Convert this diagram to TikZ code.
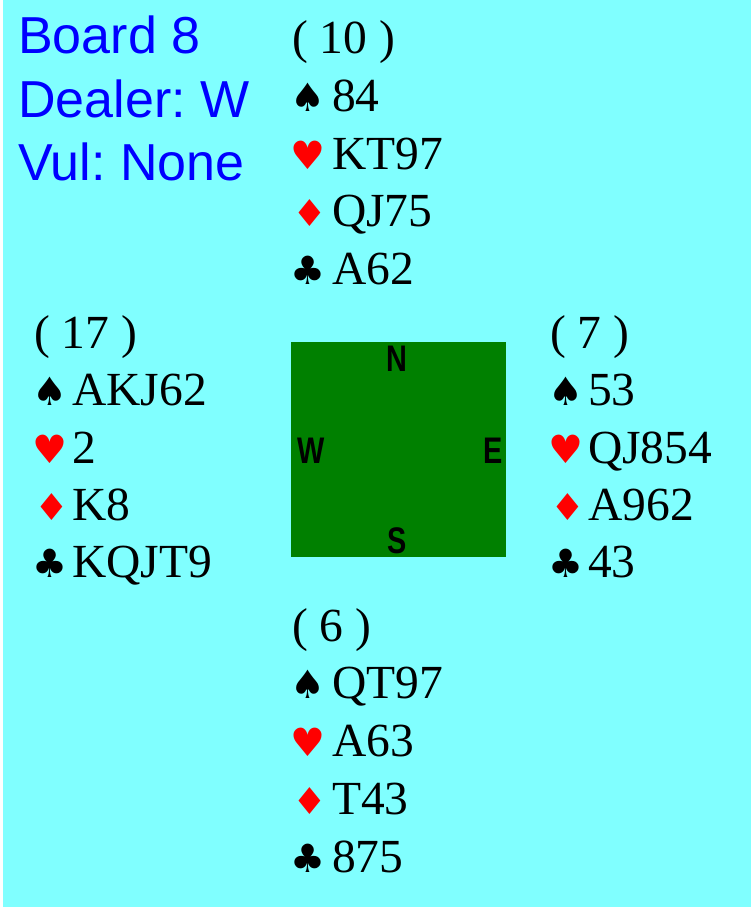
\documentclass[tikz,border=0pt]{standalone}
\usepackage{graphicx}
\usepackage{fontspec}
\setmainfont{Liberation Serif}
\newfontfamily\sansf{Liberation Sans}
\newfontfamily\suitf{DejaVu Sans}
\definecolor{bgcyan}{HTML}{80FFFF}
\definecolor{tablegreen}{HTML}{008000}
\definecolor{infoblue}{HTML}{0000FF}
\definecolor{suitred}{HTML}{FF0000}
\frenchspacing
\newcommand{\dia}{\scalebox{1.05}[1]{\fontsize{37}{40}\selectfont ♦}}
\newcommand{\cmp}[1]{\scalebox{0.78}[1]{#1}}
\begin{document}
\begin{tikzpicture}[x=1pt,y=-1pt,
  info/.style={anchor=base west,inner sep=0pt,text=infoblue,font=\sansf\frenchspacing\fontsize{52}{60}\selectfont},
  cards/.style={anchor=base west,inner sep=0pt,text=black,font=\fontsize{47.5}{55}\selectfont},
  suitblack/.style={anchor=base west,inner sep=0pt,text=black,font=\suitf\fontsize{39}{42}\selectfont},
  suitredst/.style={anchor=base west,inner sep=0pt,text=suitred,font=\suitf\fontsize{39}{42}\selectfont},
  compass/.style={inner sep=0pt,text=black,font=\sansf\bfseries\fontsize{37}{40}\selectfont}]
\useasboundingbox (0,0) rectangle (751,907);
\fill[white] (0,0) rectangle (751,907);
\fill[bgcyan] (3,0) rectangle (751,907);
% info
\node[info] (board) at (18,53) {Board 8};
\node[info] (dealer) at (18,117) {Dealer: W};
\node[info] (vul) at (18,180) {Vul: None};
% table
\node[fill=tablegreen,minimum width=215pt,minimum height=215pt,inner sep=0pt,draw=none] (table) at (398.5,449.5) {};
\node[compass] (cn) at (397,359) {\cmp{N}};
\node[compass] (cs) at (397,541) {\cmp{S}};
\node[compass] (cw) at (311,451) {\cmp{W}};
\node[compass] (ce) at (493,451) {\cmp{E}};
% North
\node[cards] (npts) at (292,54) {( 10 )};
\node[suitblack] (nsS) at (290,111) {♠};
\node[cards] (nS) at (332,111) {84};
\node[suitredst] (nsH) at (290,169) {♥};
\node[cards] (nH) at (332,169) {KT97};
\node[suitredst] (nsD) at (292,226) {\dia};
\node[cards] (nD) at (332,226) {QJ75};
\node[suitblack] (nsC) at (290,284) {♣};
\node[cards] (nC) at (332,284) {A62};
% West
\node[cards] (wpts) at (34,348) {( 17 )};
\node[suitblack] (wsS) at (32,405) {♠};
\node[cards] (wS) at (72,405) {AKJ62};
\node[suitredst] (wsH) at (32,463) {♥};
\node[cards] (wH) at (72,463) {2};
\node[suitredst] (wsD) at (34,520) {\dia};
\node[cards] (wD) at (72,520) {K8};
\node[suitblack] (wsC) at (32,577) {♣};
\node[cards] (wC) at (72,577) {KQJT9};
% East
\node[cards] (epts) at (550,348) {( 7 )};
\node[suitblack] (esS) at (548,405) {♠};
\node[cards] (eS) at (588,405) {53};
\node[suitredst] (esH) at (548,463) {♥};
\node[cards] (eH) at (588,463) {QJ854};
\node[suitredst] (esD) at (550,520) {\dia};
\node[cards] (eD) at (588,520) {A962};
\node[suitblack] (esC) at (548,577) {♣};
\node[cards] (eC) at (588,577) {43};
% South
\node[cards] (spts) at (292,641) {( 6 )};
\node[suitblack] (ssS) at (290,698) {♠};
\node[cards] (sS) at (332,698) {QT97};
\node[suitredst] (ssH) at (290,756) {♥};
\node[cards] (sH) at (332,756) {A63};
\node[suitredst] (ssD) at (292,814) {\dia};
\node[cards] (sD) at (332,814) {T43};
\node[suitblack] (ssC) at (290,872) {♣};
\node[cards] (sC) at (332,872) {875};
\end{tikzpicture}
\end{document}
